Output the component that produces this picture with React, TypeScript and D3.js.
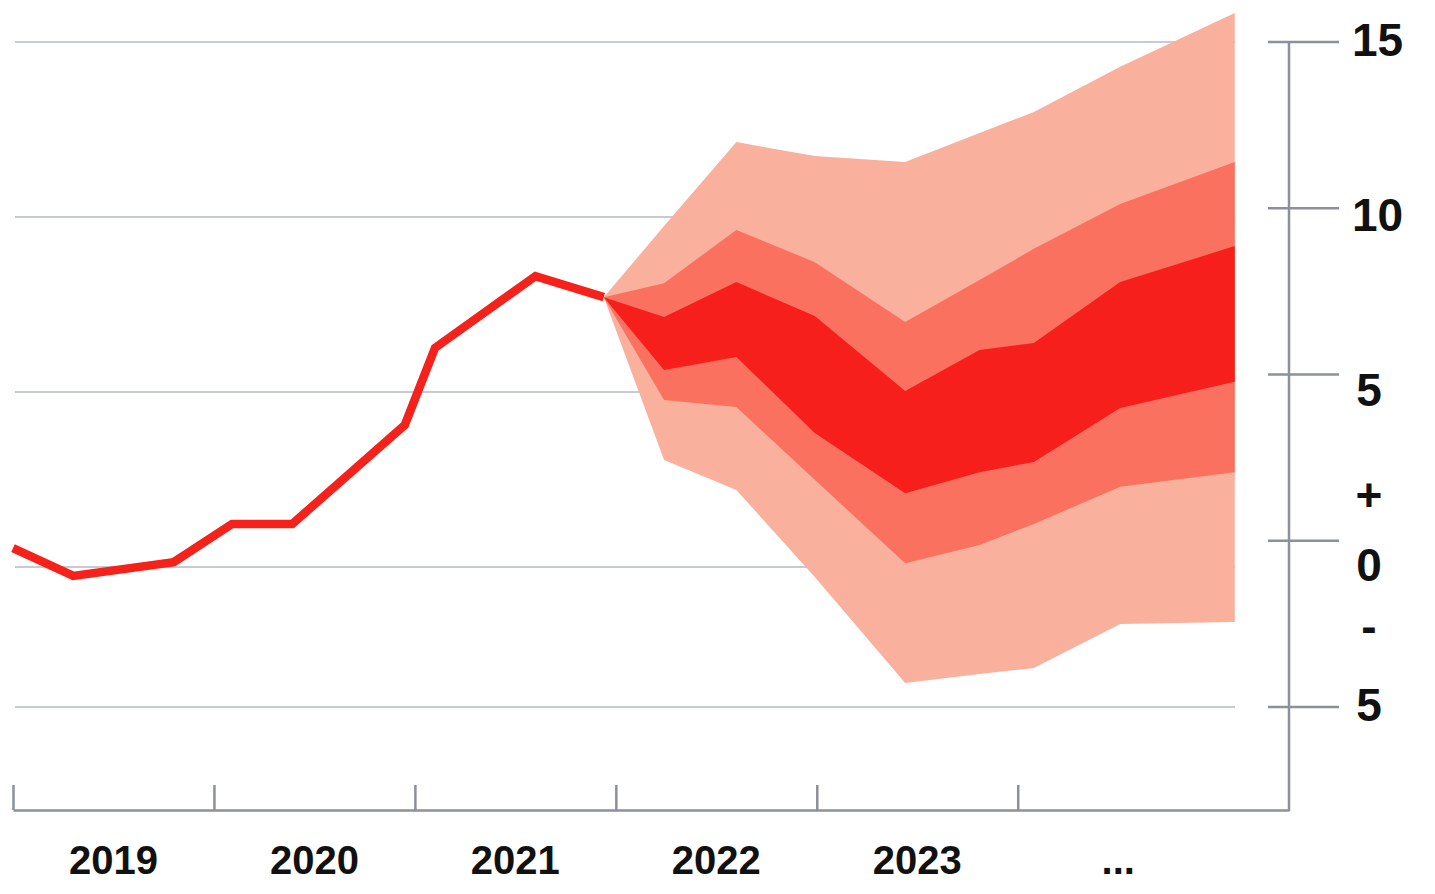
import React, { useEffect, useRef } from 'react';
import * as d3 from 'd3';

// year ticks on the bottom axis and the labels set between them
const yearTicks = [2019, 2020, 2021, 2022, 2023, 2024];
const yearLabels = ['2019', '2020', '2021', '2022', '2023', '...'];

// history line (decimal years)
const histDates = [2019.0, 2019.3, 2019.8, 2020.09, 2020.39, 2020.95, 2021.1, 2021.6, 2021.94];
const histValues = [0.54, -0.32, 0.14, 1.23, 1.23, 4.06, 6.26, 8.31, 7.71];

// fan chart bands
const fanDates = [2021.94, 2022.24, 2022.6, 2022.99, 2023.44, 2023.81, 2024.08, 2024.51, 2025.08];
const outerHigh = [7.71, 9.74, 12.14, 11.74, 11.57, 12.4, 13.0, 14.29, 15.83];
const middleHigh = [7.71, 8.11, 9.63, 8.71, 7.0, 8.2, 9.09, 10.37, 11.57];
const innerHigh = [7.71, 7.14, 8.14, 7.17, 5.03, 6.2, 6.4, 8.14, 9.17];
const innerLow = [7.71, 5.63, 6.0, 3.83, 2.11, 2.71, 3.0, 4.54, 5.29];
const middleLow = [7.71, 4.77, 4.57, 2.49, 0.11, 0.63, 1.23, 2.29, 2.71];
const outerLow = [7.71, 3.06, 2.2, -0.36, -4.14, -3.82, -3.61, -2.04, -1.96];

// gridlines, right axis ticks and right labels
const gridValues = [15, 10, 5, 0, -5];
const axisTicks = [15, 10, 5, 0, -5];
const sideLabelText = ['15', '10', '5', '+', '0', '-', '5'];
const sideLabelValues = [15, 10, 5, 2, 0, -2.2, -5];

type Band = { date: number; lo: number; hi: number };

const FanChart = () => {
  const ref = useRef<HTMLDivElement>(null);

  useEffect(() => {
    drawChart();
  }, []);

  const drawChart = () => {
    d3.select(ref.current).select('svg').remove();

    const width = 1435;
    const height = 894;
    const font = '"Liberation Sans", Arial, sans-serif';
    const axisColor = '#8b909c';

    const svg = d3
      .select(ref.current)
      .append('svg')
      .attr('width', width)
      .attr('height', height)
      .style('position', 'absolute')
      .style('left', 0)
      .style('top', 0)
      .style('background', '#fff');

    // X scale
    const x = d3.scaleLinear().domain([2019, 2025.35]).range([13, 1289]);

    // plot scale (the grid is not evenly spaced below zero)
    const y = d3.scaleLinear().domain([-5, 0, 5, 10, 15]).range([707, 567, 392, 217, 42]);
    // scale of the right axis tick marks
    const yAxis = d3.scaleLinear().domain([-5, 15]).range([707, 42]);

    // gridlines
    svg
      .append('g')
      .selectAll('line')
      .data(gridValues)
      .enter()
      .append('line')
      .attr('x1', 15)
      .attr('x2', 1235)
      .attr('y1', (d) => y(d))
      .attr('y2', (d) => y(d))
      .attr('stroke', '#c6cad3')
      .attr('stroke-width', 2);

    // fan bands
    const bands = [
      { lo: outerLow, hi: outerHigh, color: '#f9b09c' },
      { lo: middleLow, hi: middleHigh, color: '#fa7160' },
      { lo: innerLow, hi: innerHigh, color: '#f61f1b' },
    ];
    const area = d3
      .area<Band>()
      .x((d) => x(d.date))
      .y0((d) => y(d.lo))
      .y1((d) => y(d.hi));

    bands.forEach((b) => {
      const rows: Band[] = fanDates.map((date, i) => ({ date, lo: b.lo[i], hi: b.hi[i] }));
      svg.append('path').datum(rows).attr('fill', b.color).attr('d', area);
    });

    // history line
    const line = d3
      .line<number>()
      .x((d, i) => x(histDates[i]))
      .y((d) => y(d));

    svg
      .append('path')
      .datum(histValues)
      .attr('fill', 'none')
      .attr('stroke', '#f5211b')
      .attr('stroke-width', 8.5)
      .attr('stroke-linejoin', 'miter')
      .attr('d', line);

    // bottom axis
    const bottom = svg
      .append('g')
      .attr('transform', 'translate(0,810)')
      .call(
        d3
          .axisBottom(x)
          .tickValues(yearTicks)
          .tickSize(-25)
          .tickSizeOuter(0)
          .tickFormat(() => ''),
      );
    bottom.selectAll('path, line').attr('stroke', axisColor).attr('stroke-width', 2.5);

    svg
      .append('g')
      .selectAll('text')
      .data(yearLabels)
      .enter()
      .append('text')
      .attr('x', (d, i) => x(yearTicks[i] + 0.5))
      .attr('y', 874)
      .attr('text-anchor', 'middle')
      .attr('font-family', font)
      .attr('font-weight', 700)
      .attr('font-size', 40)
      .attr('fill', '#111')
      .text((d) => d);

    // right axis
    svg
      .append('line')
      .attr('x1', 1289)
      .attr('x2', 1289)
      .attr('y1', yAxis(15))
      .attr('y2', 811)
      .attr('stroke', axisColor)
      .attr('stroke-width', 2.5);

    svg
      .append('g')
      .selectAll('line')
      .data(axisTicks)
      .enter()
      .append('line')
      .attr('x1', 1268)
      .attr('x2', 1339)
      .attr('y1', (d) => yAxis(d))
      .attr('y2', (d) => yAxis(d))
      .attr('stroke', axisColor)
      .attr('stroke-width', 2.5);

    svg
      .append('g')
      .selectAll('text')
      .data(sideLabelText)
      .enter()
      .append('text')
      .attr('x', (d) => (d.length > 1 ? 1352 : 1369))
      .attr('y', (d, i) => y(sideLabelValues[i]))
      .attr('dy', '0.3em')
      .attr('text-anchor', (d) => (d.length > 1 ? 'start' : 'middle'))
      .attr('font-family', font)
      .attr('font-weight', 700)
      .attr('font-size', 46)
      .attr('fill', '#111')
      .text((d) => d);
  };

  return <div ref={ref}></div>;
};

export default function App() {
  return <FanChart />;
}
